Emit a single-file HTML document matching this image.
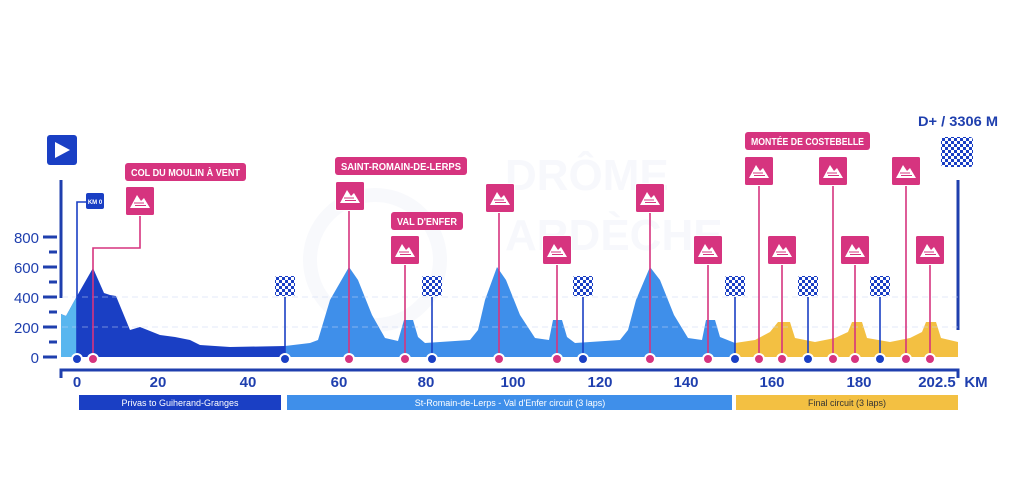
<!DOCTYPE html>
<html><head><meta charset="utf-8"><style>
body{margin:0;background:#fff;}
svg{display:block;font-family:"Liberation Sans",sans-serif;}
.lbl{font-weight:bold;font-size:10px;fill:#fff}
</style></head><body>
<svg width="1009" height="500" viewBox="0 0 1009 500">
<defs>
<pattern id="chk" width="6" height="6" patternUnits="userSpaceOnUse"><rect width="6" height="6" fill="#fff"/><rect width="3" height="3" fill="#1a3fc4"/><rect x="3" y="3" width="3" height="3" fill="#1a3fc4"/></pattern>
<g id="mtn"><rect x="-14.5" y="-14.5" width="29" height="29" rx="2" fill="#d6347f" stroke="#fff" stroke-width="1"/><path d="M-10 7 L-3 -6 L1 0 L4 -3 L10 7Z" fill="#fff"/><path d="M-6 2 H4 M-5 4.5 H6" stroke="#d6347f" stroke-width="1"/></g>
<g id="flag"><rect x="-10" y="-10" width="20" height="20" rx="2" fill="url(#chk)"/></g>
</defs>
<!-- watermark -->
<text x="505" y="190" font-size="44" font-weight="bold" fill="#f7f8fc">DRÔME</text>
<text x="505" y="250" font-size="44" font-weight="bold" fill="#f7f8fc">ARDÈCHE</text>
<circle cx="375" cy="260" r="65" fill="none" stroke="#f8f9fc" stroke-width="14"/>

<!-- y axis -->
<g fill="#1f3fae" font-size="15" text-anchor="end">
<text x="39" y="243">800</text><text x="39" y="273">600</text><text x="39" y="303">400</text><text x="39" y="333">200</text><text x="39" y="363">0</text>
</g>
<g stroke="#1f3fae" stroke-width="3">
<line x1="43" y1="237" x2="57" y2="237"/><line x1="43" y1="267" x2="57" y2="267"/><line x1="43" y1="297" x2="57" y2="297"/><line x1="43" y1="327" x2="57" y2="327"/><line x1="43" y1="357" x2="57" y2="357"/>
<line x1="49" y1="252" x2="57" y2="252"/><line x1="49" y1="282" x2="57" y2="282"/><line x1="49" y1="312" x2="57" y2="312"/><line x1="49" y1="342" x2="57" y2="342"/>
<line x1="61" y1="180" x2="61" y2="298"/>
<polyline points="61,378 61,370 958,370 958,378" fill="none"/>
<line x1="958" y1="180" x2="958" y2="330"/>
</g>

<!-- profile -->
<path d="M61 357 L61 314 L66 316 L77 296 L93 268 L104 293 L110 295 L116 296 L130 330 L140 327 L160 335 L175 337 L190 340 L200 345 L230 347 L285 346 L285 357Z" fill="#1a3fc4"/>
<path d="M61 357 L61 314 L66 316 L77 296 L77 357Z" fill="#59b6ef"/>
<path d="M285 357 L285 346 L310 343 L318 340 L330 300 L349 267 L358 280 L372 315 L385 338 L398 341 L404 320 L413 320 L418 337 L425 343 L470 340 L478 330 L485 300 L497 267 L506 280 L520 315 L535 338 L549 340 L553 320 L562 320 L567 337 L575 343 L620 340 L628 330 L636 300 L650 267 L660 280 L674 315 L688 338 L702 340 L706 320 L715 320 L720 337 L735 343 L735 357Z" fill="#3f8fea"/>
<path d="M735 357 L735 343 L755 340 L770 332 L778 322 L790 322 L795 338 L815 342 L835 338 L848 332 L852 322 L862 322 L867 338 L890 342 L910 338 L922 332 L926 322 L936 322 L941 338 L958 342 L958 357Z" fill="#f3c042"/>
<g stroke="#c9d7f7" stroke-dasharray="6 4" stroke-width="1"><line x1="62" y1="297" x2="958" y2="297" opacity="0.5"/><line x1="62" y1="327" x2="958" y2="327" opacity="0.5"/></g>

<!-- x labels -->
<g fill="#1f3fae" font-size="15" font-weight="bold" text-anchor="middle">
<text x="77" y="387">0</text><text x="158" y="387">20</text><text x="248" y="387">40</text><text x="339" y="387">60</text><text x="426" y="387">80</text><text x="513" y="387">100</text><text x="600" y="387">120</text><text x="686" y="387">140</text><text x="772" y="387">160</text><text x="859" y="387">180</text><text x="937" y="387">202.5</text><text x="976" y="387">KM</text>
</g>

<!-- bars -->
<rect x="79" y="395" width="202" height="15" fill="#1a3fc4"/>
<rect x="287" y="395" width="445" height="15" fill="#3f8fea"/>
<rect x="736" y="395" width="222" height="15" fill="#f3c042"/>
<g font-size="9" text-anchor="middle"><text x="180" y="406" fill="#fff">Privas to Guiherand-Granges</text><text x="510" y="406" fill="#fff">St-Romain-de-Lerps - Val d'Enfer circuit (3 laps)</text><text x="847" y="406" fill="#333">Final circuit (3 laps)</text></g>

<!-- connectors -->
<g stroke="#d6347f" stroke-width="1.6" fill="none">
<polyline points="140,216 140,248 93,248 93,357"/>
<line x1="349" y1="211" x2="349" y2="357"/><line x1="405" y1="265" x2="405" y2="357"/>
<line x1="499" y1="213" x2="499" y2="357"/><line x1="557" y1="265" x2="557" y2="357"/>
<line x1="650" y1="213" x2="650" y2="357"/><line x1="708" y1="265" x2="708" y2="357"/>
<line x1="759" y1="186" x2="759" y2="357"/><line x1="782" y1="265" x2="782" y2="357"/>
<line x1="833" y1="186" x2="833" y2="357"/><line x1="855" y1="265" x2="855" y2="357"/>
<line x1="906" y1="186" x2="906" y2="357"/><line x1="930" y1="265" x2="930" y2="357"/>
</g>
<g stroke="#1a3fc4" stroke-width="1.6" fill="none">
<polyline points="86,202 77,202 77,357"/>
<line x1="285" y1="297" x2="285" y2="357"/><line x1="432" y1="297" x2="432" y2="357"/><line x1="583" y1="297" x2="583" y2="357"/><line x1="735" y1="297" x2="735" y2="357"/><line x1="808" y1="297" x2="808" y2="357"/><line x1="880" y1="297" x2="880" y2="357"/>
</g>
<!-- dots -->
<g stroke="#fff" stroke-width="2">
<g fill="#1a3fc4"><circle cx="77" cy="359" r="5"/><circle cx="285" cy="359" r="5"/><circle cx="432" cy="359" r="5"/><circle cx="583" cy="359" r="5"/><circle cx="735" cy="359" r="5"/><circle cx="808" cy="359" r="5"/><circle cx="880" cy="359" r="5"/></g>
<g fill="#d6347f"><circle cx="93" cy="359" r="5"/><circle cx="349" cy="359" r="5"/><circle cx="405" cy="359" r="5"/><circle cx="499" cy="359" r="5"/><circle cx="557" cy="359" r="5"/><circle cx="650" cy="359" r="5"/><circle cx="708" cy="359" r="5"/><circle cx="759" cy="359" r="5"/><circle cx="782" cy="359" r="5"/><circle cx="833" cy="359" r="5"/><circle cx="855" cy="359" r="5"/><circle cx="906" cy="359" r="5"/><circle cx="930" cy="359" r="5"/></g>
</g>
<!-- flags -->
<use href="#flag" x="285" y="286"/><use href="#flag" x="432" y="286"/><use href="#flag" x="583" y="286"/><use href="#flag" x="735" y="286"/><use href="#flag" x="808" y="286"/><use href="#flag" x="880" y="286"/>
<rect x="941" y="137" width="32" height="30" rx="3" fill="url(#chk)"/>
<!-- mountain markers -->
<use href="#mtn" x="140" y="201"/><use href="#mtn" x="350" y="196"/><use href="#mtn" x="405" y="250"/>
<use href="#mtn" x="500" y="198"/><use href="#mtn" x="557" y="250"/><use href="#mtn" x="650" y="198"/><use href="#mtn" x="708" y="250"/>
<use href="#mtn" x="759" y="171"/><use href="#mtn" x="782" y="250"/><use href="#mtn" x="833" y="171"/><use href="#mtn" x="855" y="250"/><use href="#mtn" x="906" y="171"/><use href="#mtn" x="930" y="250"/>
<!-- labels -->
<rect x="125" y="163" width="121" height="18" rx="3" fill="#d6347f"/><text class="lbl" x="131" y="176" textLength="109" lengthAdjust="spacingAndGlyphs">COL DU MOULIN À VENT</text>
<rect x="335" y="157" width="132" height="18" rx="3" fill="#d6347f"/><text class="lbl" x="341" y="170" textLength="120" lengthAdjust="spacingAndGlyphs">SAINT-ROMAIN-DE-LERPS</text>
<rect x="391" y="212" width="72" height="18" rx="3" fill="#d6347f"/><text class="lbl" x="397" y="225" textLength="60" lengthAdjust="spacingAndGlyphs">VAL D'ENFER</text>
<rect x="745" y="132" width="125" height="18" rx="3" fill="#d6347f"/><text class="lbl" x="751" y="145" textLength="113" lengthAdjust="spacingAndGlyphs">MONTÉE DE COSTEBELLE</text>
<!-- km0 -->
<rect x="86" y="193" width="18" height="16" rx="2" fill="#1a3fc4"/><text x="95" y="204" font-size="6" fill="#fff" text-anchor="middle" font-weight="bold">KM 0</text>
<!-- start -->
<rect x="47" y="135" width="30" height="30" rx="3" fill="#1a3fc4"/><path d="M55 142 L70 150 L55 158Z" fill="#fff"/>
<text x="918" y="126" font-size="14" font-weight="bold" fill="#1f3fae" textLength="80" lengthAdjust="spacingAndGlyphs">D+ / 3306 M</text>
</svg>
</body></html>
